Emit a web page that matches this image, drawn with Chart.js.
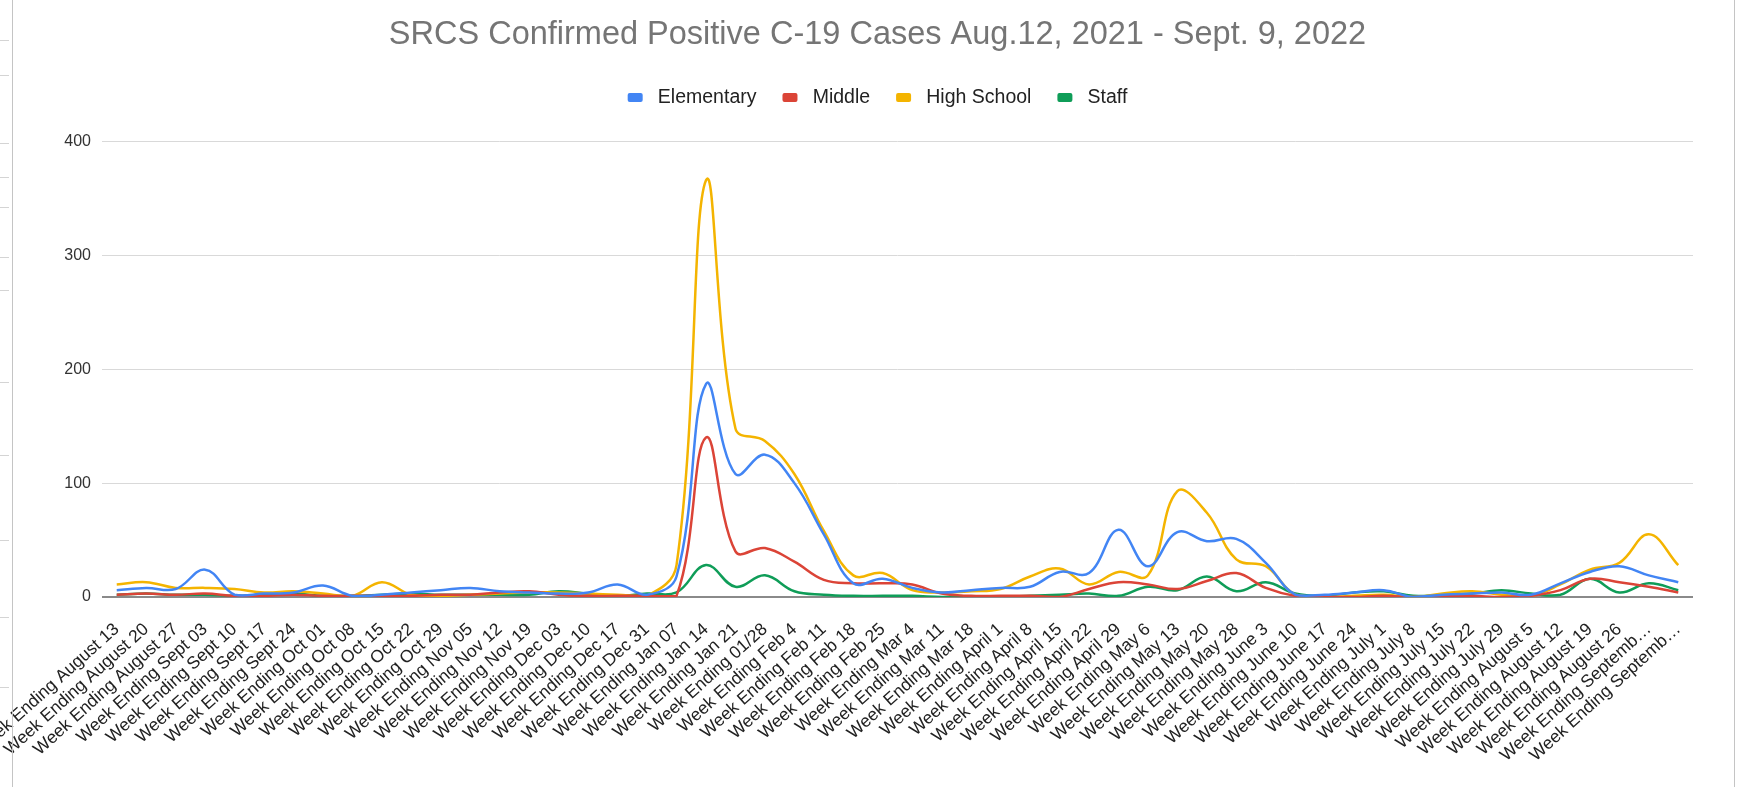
<!DOCTYPE html>
<html><head><meta charset="utf-8">
<script src="https://cdn.jsdelivr.net/npm/chart.js@4/dist/chart.umd.min.js"></script>
<style>
html,body{margin:0;padding:0;background:#fff;overflow:hidden;}
#wrap{position:relative;width:1737px;height:787px;}
#c{position:absolute;left:0;top:0;}
.vl{position:absolute;top:0;width:1px;height:787px;background:#c4c4c4;}
.tk{position:absolute;left:0;width:9px;height:1px;background:#d4d4d4;}
</style></head><body>
<div id="wrap">
<canvas id="c" width="1737" height="787"></canvas>
<div class="vl" style="left:12px"></div>
<div class="vl" style="left:1734px"></div>
<div class="tk" style="top:40px"></div><div class="tk" style="top:75px"></div>
<div class="tk" style="top:143px"></div><div class="tk" style="top:177px"></div>
<div class="tk" style="top:207px"></div><div class="tk" style="top:257px"></div>
<div class="tk" style="top:290px"></div><div class="tk" style="top:382px"></div>
<div class="tk" style="top:455px"></div><div class="tk" style="top:540px"></div>
<div class="tk" style="top:617px"></div><div class="tk" style="top:687px"></div>
</div>
<script>
const categories = ['Week Ending August 13','Week Ending August 20','Week Ending August 27','Week Ending Sept 03','Week Ending Sept 10','Week Ending Sept 17','Week Ending Sept 24','Week Ending Oct 01','Week Ending Oct 08','Week Ending Oct 15','Week Ending Oct 22','Week Ending Oct 29','Week Ending Nov 05','Week Ending Nov 12','Week Ending Nov 19','Week Ending Dec 03','Week Ending Dec 10','Week Ending Dec 17','Week Ending Dec 31','Week Ending Jan 07','Week Ending Jan 14','Week Ending Jan 21','Week Ending 01/28','Week Ending Feb 4','Week Ending Feb 11','Week Ending Feb 18','Week Ending Feb 25','Week Ending Mar 4','Week Ending Mar 11','Week Ending Mar 18','Week Ending April 1','Week Ending April 8','Week Ending April 15','Week Ending April 22','Week Ending April 29','Week Ending May 6','Week Ending May 13','Week Ending May 20','Week Ending May 28','Week Ending June 3','Week Ending June 10','Week Ending June 17','Week Ending June 24','Week Ending July 1','Week Ending July 8','Week Ending July 15','Week Ending July 22','Week Ending July 29','Week Ending August 5','Week Ending August 12','Week Ending August 19','Week Ending August 26','Week Ending September 2','Week Ending September 9'];
const elementary = [6,8,7,24,2,3,4,10,1,2, 4,6,8,5,4,3,4,11,2,18, 187,108,125,100,55,12,16,8,4,6, 8,9,22,21,59,27,57,49,51,30, 2,2,4,6,0,2,3,4,2,12, 22,27,19,13];
const middle = [2,3,2,3,1,1,2,1,1,1, 1,2,2,4,5,2,1,1,1,1, 140,40,43,31,15,12,12,11,3,1, 1,1,0,7,13,11,7,14,21,8, 1,0,0,1,0,1,1,0,1,6, 16,13,9,4];
const highSchool = [11,13,8,8,7,4,5,3,1,13, 2,1,2,3,4,4,3,2,1,28, 366,148,137,108,58,19,21,6,4,5, 7,18,25,11,22,19,93,74,33,27, 2,0,1,2,0,3,5,2,1,11, 24,30,55,28];
const staff = [2,3,2,2,1,2,3,1,1,2, 3,2,2,2,2,5,3,1,3,4, 28,9,19,5,2,1,1,1,0,0, 0,1,2,3,1,9,6,18,5,13, 3,1,4,5,1,2,3,6,3,2, 16,4,12,6];
const yTicks = [0,100,200,300,400];
const seriesNames = ['Elementary','Middle','High School','Staff'];
const seriesColors = ['#4285F4','#DB4437','#F4B400','#0F9D58'];
const titleText = 'SRCS Confirmed Positive C-19 Cases Aug.12, 2021 - Sept. 9, 2022';

const FONT = "Arial, 'Liberation Sans', sans-serif";
const PL = 62, PR = 44;
const LEGEND_H = 79.75;
const seriesData = [elementary, middle, highSchool, staff];

const legendHeightPlugin = {
  id: 'legendHeight',
  beforeUpdate(chart) {
    const lg = chart.legend;
    if (lg && !lg._patched) {
      lg._patched = true;
      const f = lg.fit;
      lg.fit = function () { f.call(this); this.height = LEGEND_H; };
    }
  }
};

new Chart(document.getElementById('c'), {
  type: 'line',
  data: {
    labels: categories,
    datasets: seriesNames.map((n, i) => ({
      label: n, data: seriesData[i],
      borderColor: seriesColors[i], backgroundColor: seriesColors[i],
      borderWidth: 2.5, pointRadius: 0, tension: 0.4, fill: false
    }))
  },
  options: {
    responsive: false, animation: false, devicePixelRatio: 1,
    layout: { padding: { left: PL, right: PR, top: 0, bottom: 0 } },
    plugins: {
      tooltip: { enabled: false },
      title: {
        display: true, text: titleText, color: '#757575',
        font: { family: FONT, size: 32.5, weight: 'normal' },
        padding: { top: 15.5, bottom: 7.25 }
      },
      legend: {
        display: true, position: 'top',
        labels: {
          color: '#222', font: { family: FONT, size: 19.5 },
          boxWidth: 15, boxHeight: 9, useBorderRadius: true, borderRadius: 2,
          padding: 26,
          generateLabels(chart) {
            const items = Chart.defaults.plugins.legend.labels.generateLabels(chart);
            items.forEach(it => { it.text = ' ' + it.text; it.lineWidth = 0; });
            return items;
          }
        }
      }
    },
    scales: {
      x: {
        offset: true,
        grid: { display: false, drawTicks: false },
        border: { display: false },
        ticks: {
          autoSkip: false, minRotation: 42, maxRotation: 42, padding: 22,
          color: '#222', font: { family: FONT, size: 17.5 },
          callback(v) { const s = this.getLabelForValue(v); return s.length > 22 ? s.slice(0, 19) + '\u2026' : s; }
        },
        afterFit(s) { s.height = 190; s.paddingLeft = 0; s.paddingRight = 0; }
      },
      y: {
        min: 0, max: 400,
        afterBuildTicks(s) { s.ticks = yTicks.map(v => ({ value: v })); },
        grid: {
          drawTicks: false,
          color: c => c.tick && c.tick.value === 0 ? '#8a8a8a' : '#d9d9d9',
          lineWidth: c => c.tick && c.tick.value === 0 ? 2 : 1
        },
        border: { display: false },
        ticks: { padding: 11, color: '#333', font: { family: FONT, size: 16 } },
        afterFit(s) { s.width = 102 - PL; }
      }
    }
  },
  plugins: [legendHeightPlugin]
});
</script>
</body></html>
